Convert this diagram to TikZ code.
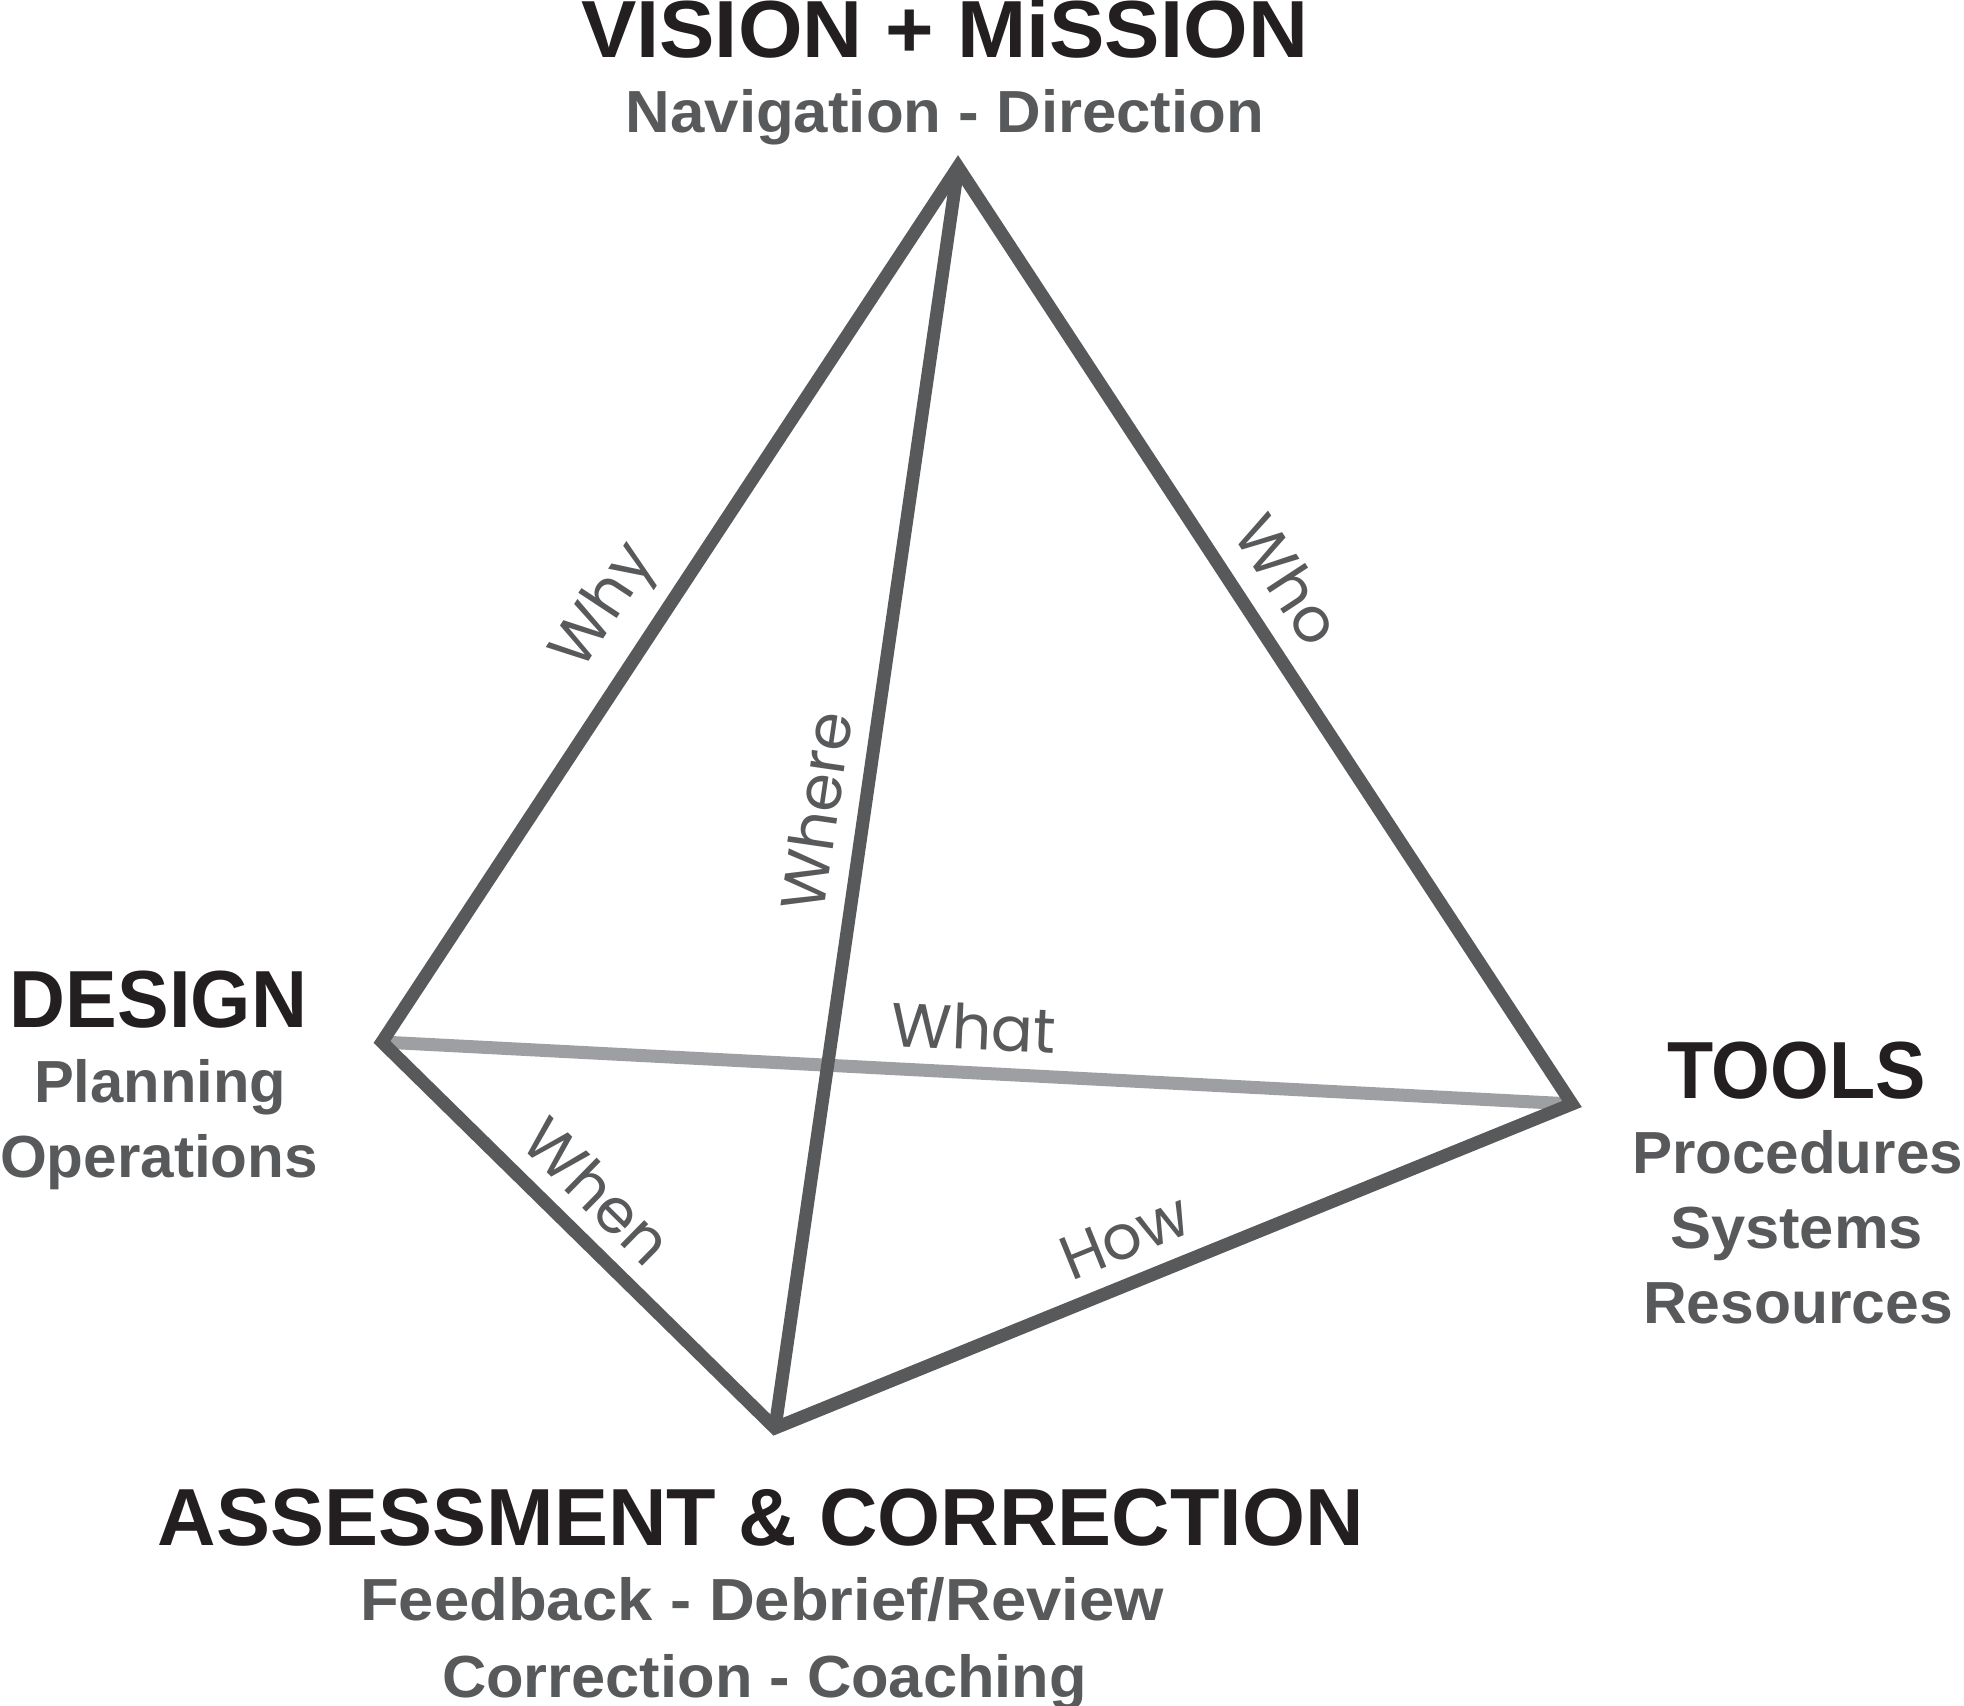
\documentclass[tikz,border=0pt]{standalone}
\usepackage{fontspec}
\usepackage{graphicx}
\setmainfont{Liberation Sans}
\newfontfamily\lblfont{Poppins}
\definecolor{ink}{HTML}{231F20}
\definecolor{steel}{HTML}{58595B}
\definecolor{pale}{HTML}{9D9FA2}
\newsavebox\fitbox
\newlength\fitlen
\newcommand\fitw[2]{\sbox\fitbox{#2}\setlength\fitlen{\wd\fitbox}\pgfmathsetmacro\fitr{#1/\fitlen}\scalebox{\fitr}[1]{\usebox\fitbox}}
\tikzset{
  titletext/.style={anchor=base, inner sep=0pt, text=ink, font=\fontsize{40.5}{40.5}\selectfont\bfseries},
  subtext/.style={anchor=base, inner sep=0pt, text=steel, font=\fontsize{29.7}{29.7}\selectfont\bfseries},
  lbl/.style={inner sep=0pt, text=steel, font=\fontsize{31}{31}\selectfont\lblfont},
  edge/.style={draw=steel, line width=6.5pt},
  paleedge/.style={draw=pale, line width=6.5pt},
}
\begin{document}
\begin{tikzpicture}[x=0.5pt, y=-0.5pt]
\useasboundingbox (0,0) rectangle (1964,1706);
% vertices
\coordinate (V) at (958,167);
\coordinate (D) at (382,1042);
\coordinate (T) at (1572,1104);
\coordinate (A) at (775,1428);
% edges
\draw[paleedge] (D) -- (T);
\draw[edge] (V) -- (A);
\draw[edge, line join=miter] (V) -- (D) -- (A) -- (T) -- cycle;
% edge labels
\node[lbl, rotate=56.6] (why) at (606,608) {Why};
\node[lbl, rotate=-56.8] (who) at (1289,580) {Who};
\node[lbl, rotate=81.7] (where) at (816,811) {Where};
\node[lbl, rotate=-2.5] (what) at (974,1027) {What};
\node[lbl, rotate=-44.5] (when) at (598,1191) {When};
\node[lbl, rotate=22.1] (how) at (1125,1237) {How};
% top
\node[titletext] (vm) at (944.5,58) {\fitw{363.5pt}{VISION + MiSSION}};
\node[subtext] (nav) at (945,133) {\fitw{319.25pt}{Navigation - Direction}};
% left
\node[titletext] (design) at (158.5,1027) {\fitw{148.5pt}{DESIGN}};
\node[subtext] (plan) at (160,1102) {\fitw{126pt}{Planning}};
\node[subtext] (oper) at (159,1177) {\fitw{159pt}{Operations}};
% right
\node[titletext] (tools) at (1796.5,1098) {\fitw{129.5pt}{TOOLS}};
\node[subtext] (proc) at (1797.5,1173) {\fitw{165.5pt}{Procedures}};
\node[subtext] (sys) at (1796.5,1248) {\fitw{126.5pt}{Systems}};
\node[subtext] (res) at (1798,1323) {\fitw{155pt}{Resources}};
% bottom
\node[titletext] (ac) at (761,1545) {\fitw{603pt}{ASSESSMENT \& CORRECTION}};
\node[subtext] (fb) at (762,1620) {\fitw{402pt}{Feedback - Debrief/Review}};
\node[subtext] (cc) at (764.5,1697) {\fitw{322.5pt}{Correction - Coaching}};
\end{tikzpicture}
\end{document}
